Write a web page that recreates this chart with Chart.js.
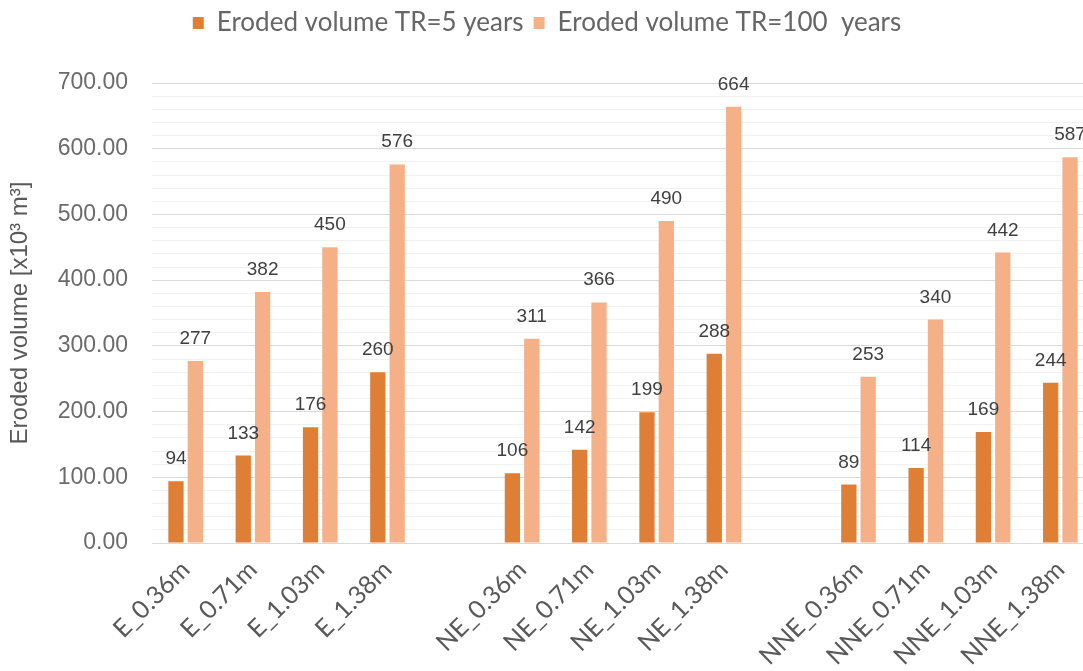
<!DOCTYPE html>
<html>
<head>
<meta charset="utf-8">
<script src="https://cdn.jsdelivr.net/npm/chart.js@4/dist/chart.umd.min.js"></script>
<style>
  html, body { margin: 0; padding: 0; background: #fff; overflow: hidden; }
  #wrap { width: 1100px; height: 671px; }
</style>
</head>
<body>
<div id="wrap"><canvas id="chart" width="1100" height="671"></canvas></div>
<script>
// categories (empty strings are the gaps between the E / NE / NNE groups)
const categories = [
    'E_0.36m', 'E_0.71m', 'E_1.03m', 'E_1.38m', '',
    'NE_0.36m', 'NE_0.71m', 'NE_1.03m', 'NE_1.38m', '',
    'NNE_0.36m', 'NNE_0.71m', 'NNE_1.03m', 'NNE_1.38m'
];
const tr5 = [94, 133, 176, 260, null, 106, 142, 199, 288, null, 89, 114, 169, 244];
const tr100 = [277, 382, 450, 576, null, 311, 366, 490, 664, null, 253, 340, 442, 587];
const yMin = 0;
const yMax = 700;
const yMajorStep = 100;
const yMinorStep = 20;

const darkOrange = '#df7f35';
const lightOrange = '#f6b088';

// adds some room under the legend
const legendSpacer = {
    id: 'legendSpacer',
    beforeInit(chart) {
        const origFit = chart.legend.fit;
        chart.legend.fit = function () {
            origFit.call(this);
            this.height += 37;
        };
    }
};

// value labels above each bar
const barLabels = {
    id: 'barLabels',
    afterDatasetsDraw(chart) {
        const ctx = chart.ctx;
        ctx.save();
        ctx.font = '19px "Liberation Sans", Arial, sans-serif';
        ctx.fillStyle = '#404040';
        ctx.textAlign = 'center';
        ctx.textBaseline = 'alphabetic';
        chart.data.datasets.forEach((ds, i) => {
            const meta = chart.getDatasetMeta(i);
            meta.data.forEach((bar, j) => {
                const v = ds.data[j];
                if (v === null || v === undefined) return;
                ctx.fillText(String(v), bar.x, bar.y - 17);
            });
        });
        ctx.restore();
    }
};

new Chart(document.getElementById('chart'), {
    type: 'bar',
    data: {
        labels: categories,
        datasets: [
            {
                label: 'Eroded volume TR=5 years',
                data: tr5,
                backgroundColor: darkOrange,
                categoryPercentage: 0.575,
                barPercentage: 0.79
            },
            {
                label: 'Eroded volume TR=100  years',
                data: tr100,
                backgroundColor: lightOrange,
                categoryPercentage: 0.575,
                barPercentage: 0.79
            }
        ]
    },
    options: {
        responsive: false,
        animation: false,
        devicePixelRatio: 1,
        layout: { padding: { left: 0, right: 6, top: 0, bottom: 0 } },
        plugins: {
            legend: {
                position: 'top',
                labels: {
                    boxWidth: 11,
                    boxHeight: 12,
                    padding: 10,
                    color: '#666666',
                    font: { family: 'Lato, sans-serif', size: 26 }
                }
            },
            tooltip: { enabled: false }
        },
        scales: {
            x: {
                grid: { display: false },
                border: { color: '#d9d9d9' },
                ticks: {
                    autoSkip: false,
                    maxRotation: 45,
                    minRotation: 45,
                    padding: 4,
                    color: '#595959',
                    font: { family: 'Lato, sans-serif', size: 25 }
                },
                afterFit(scale) { scale.height = 128; }
            },
            y: {
                min: yMin,
                max: yMax,
                border: { display: false },
                grid: {
                    drawTicks: false,
                    color: c => (c.tick.value % yMajorStep === 0 ? '#d9d9d9' : '#f1f1f1')
                },
                ticks: {
                    stepSize: yMinorStep,
                    autoSkip: false,
                    padding: 24,
                    color: '#6b6b6b',
                    font: { family: '"Liberation Sans", Arial, sans-serif', size: 23 },
                    callback: v => (v % yMajorStep === 0 ? v.toFixed(2) : '')
                },
                title: {
                    display: true,
                    text: 'Eroded volume [x10³ m³]',
                    color: '#595959',
                    padding: { top: 6, bottom: 0 },
                    font: { family: '"Liberation Sans", Arial, sans-serif', size: 24 }
                },
                afterFit(scale) { scale.width = 152; }
            }
        }
    },
    plugins: [legendSpacer, barLabels]
});
</script>
</body>
</html>
